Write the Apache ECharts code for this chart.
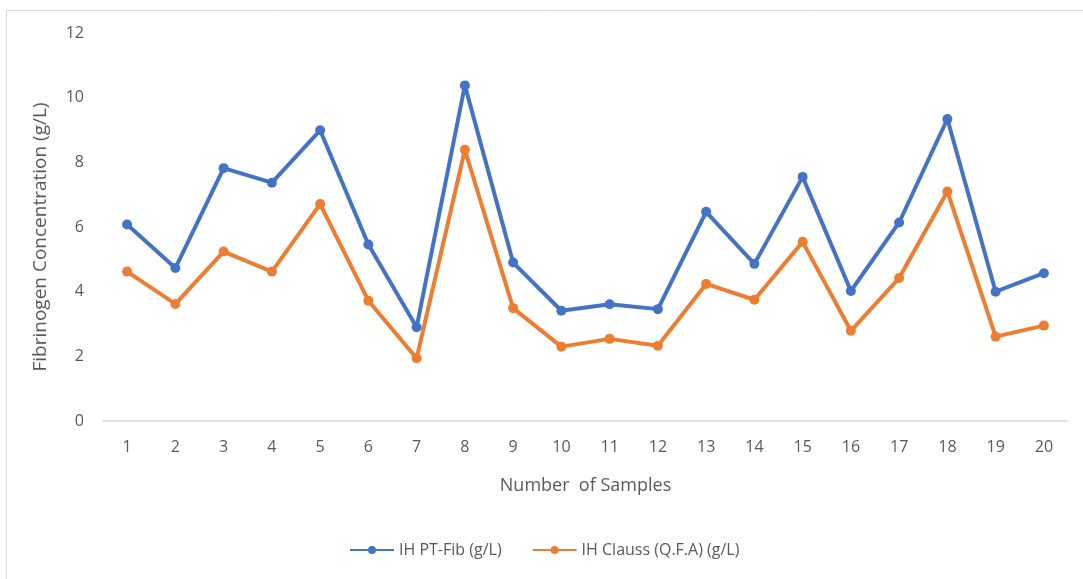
<!DOCTYPE html>
<html>
<head>
<meta charset="utf-8">
<script src="https://cdn.jsdelivr.net/npm/echarts@6/dist/echarts.min.js"></script>
<style>html,body{margin:0;padding:0;background:#fff}#c{width:1083px;height:579px}</style>
</head>
<body>
<div id="c"></div>
<script>
const categories = ['1','2','3','4','5','6','7','8','9','10','11','12','13','14','15','16','17','18','19','20'];
const ptFib = [6.08, 4.73, 7.82, 7.37, 8.99, 5.46, 2.9, 10.38, 4.9, 3.41, 3.61, 3.46, 6.47, 4.86, 7.55, 4.02, 6.14, 9.34, 4.0, 4.57];
const clauss = [4.62, 3.62, 5.24, 4.62, 6.71, 3.72, 1.94, 8.39, 3.49, 2.3, 2.54, 2.33, 4.24, 3.75, 5.54, 2.79, 4.42, 7.1, 2.61, 2.95];
const seriesNames = ['IH PT-Fib (g/L)', 'IH Clauss (Q.F.A) (g/L)'];
const yAxisTitle = 'Fibrinogen Concentration (g/L)';
const xAxisTitle = 'Number  of Samples';

const FONT = 'Open Sans';
const chart = echarts.init(document.getElementById('c'));
chart.setOption({
  animation: false,
  textStyle: { fontFamily: FONT },
  graphic: [{
    type: 'rect', shape: { x: 6.5, y: 10.5, width: 1090, height: 600 },
    style: { fill: 'none', stroke: '#d9d9d9', lineWidth: 1 }, silent: true
  }, {
    type: 'text', x: 41, y: 237, rotation: Math.PI / 2, silent: true,
    style: { text: yAxisTitle, fill: '#595959', font: '19px "Open Sans"', align: 'center', verticalAlign: 'middle' }
  }],
  grid: { left: 103, right: 15, top: 33, bottom: 158 },
  legend: {
    top: 537, left: 344, itemGap: 30, itemWidth: 44, itemHeight: 10,
    textStyle: { color: '#595959', fontSize: 16, fontFamily: FONT },
    data: seriesNames
  },
  xAxis: {
    type: 'category', data: categories, boundaryGap: true,
    name: xAxisTitle, nameLocation: 'middle', nameGap: 56,
    nameTextStyle: { color: '#595959', fontSize: 18, fontFamily: FONT },
    axisLine: { lineStyle: { color: '#d9d9d9', width: 1.5 } },
    axisTick: { show: false },
    axisLabel: { color: '#595959', fontSize: 16, margin: 18, fontFamily: FONT }
  },
  yAxis: {
    type: 'value', min: 0, max: 12, interval: 2,
    axisLine: { show: false }, axisTick: { show: false },
    splitLine: { show: false },
    axisLabel: { color: '#595959', fontSize: 16, margin: 19, fontFamily: FONT }
  },
  series: [
    { name: seriesNames[0], type: 'line', data: ptFib, symbol: 'circle', symbolSize: 10,
      lineStyle: { color: '#4472C4', width: 4 }, itemStyle: { color: '#4472C4' } },
    { name: seriesNames[1], type: 'line', data: clauss, symbol: 'circle', symbolSize: 10,
      lineStyle: { color: '#ED7D31', width: 4 }, itemStyle: { color: '#ED7D31' } }
  ]
});
</script>
</body>
</html>
